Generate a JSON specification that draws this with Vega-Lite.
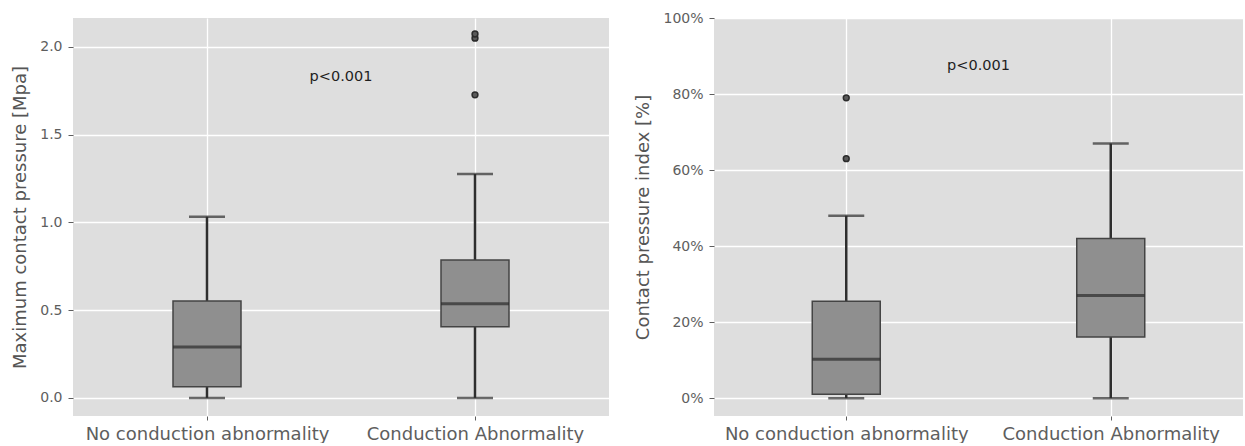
{
  "$schema": "https://vega.github.io/schema/vega-lite/v6.json",
  "padding": {"left": 11, "top": 11, "right": 0, "bottom": 0},
  "spacing": 25,
  "background": "white",
  "config": {
    "font": "DejaVu Sans",
    "view": {"fill": "#dedede", "stroke": null},
    "axis": {
      "domain": false,
      "grid": true,
      "gridColor": "#ffffff",
      "gridWidth": 1.3,
      "tickColor": "#5e5e5e",
      "tickSize": 5,
      "labelColor": "#5e5e5e",
      "labelFont": "DejaVu Sans",
      "titleFont": "DejaVu Sans",
      "titleFontWeight": "normal",
      "titleColor": "#555555",
      "labelLimit": 0
    }
  },
  "datasets": {
    "box_mcp": [
      {"group": "No conduction abnormality", "lower": 0.0, "q1": 0.063, "median": 0.29, "q3": 0.553, "upper": 1.033},
      {"group": "Conduction Abnormality", "lower": 0.0, "q1": 0.405, "median": 0.536, "q3": 0.786, "upper": 1.276}
    ],
    "out_mcp": [
      {"group": "Conduction Abnormality", "value": 1.727},
      {"group": "Conduction Abnormality", "value": 2.05},
      {"group": "Conduction Abnormality", "value": 2.074}
    ],
    "note_mcp": [{"label": "p<0.001", "y": 1.83}],
    "box_cpi": [
      {"group": "No conduction abnormality", "lower": 0.0, "q1": 0.01, "median": 0.102, "q3": 0.255, "upper": 0.48},
      {"group": "Conduction Abnormality", "lower": 0.0, "q1": 0.161, "median": 0.27, "q3": 0.42, "upper": 0.67}
    ],
    "out_cpi": [
      {"group": "No conduction abnormality", "value": 0.79},
      {"group": "No conduction abnormality", "value": 0.63}
    ],
    "note_cpi": [{"label": "p<0.001", "y": 0.874}]
  },
  "hconcat": [
    {
      "width": 536,
      "height": 398,
      "encoding": {
        "x": {
          "field": "group",
          "type": "nominal",
          "scale": {"type": "point", "padding": 0.5, "domain": ["No conduction abnormality", "Conduction Abnormality"]},
          "axis": {"title": null, "labelAngle": 0, "labelFontSize": 18, "labelPadding": 5, "tickSize": 4}
        }
      },
      "layer": [
        {
          "data": {"name": "box_mcp"},
          "mark": {"type": "rule", "color": "#2e2e2e", "strokeWidth": 2.5},
          "encoding": {
            "y": {
              "field": "lower",
              "type": "quantitative",
              "scale": {"domain": [-0.103, 2.165], "nice": false, "zero": false},
              "axis": {
                "title": "Maximum contact pressure [Mpa]",
                "titleFontSize": 18,
                "titlePadding": 10,
                "values": [0, 0.5, 1.0, 1.5, 2.0],
                "format": ".1f",
                "labelFontSize": 14,
                "labelPadding": 6
              }
            },
            "y2": {"field": "upper"}
          }
        },
        {
          "data": {"name": "box_mcp"},
          "mark": {"type": "tick", "color": "#2e2e2e", "size": 36, "thickness": 2.5},
          "encoding": {"y": {"field": "lower", "type": "quantitative"}}
        },
        {
          "data": {"name": "box_mcp"},
          "mark": {"type": "tick", "color": "#2e2e2e", "size": 36, "thickness": 2.5},
          "encoding": {"y": {"field": "upper", "type": "quantitative"}}
        },
        {
          "data": {"name": "box_mcp"},
          "mark": {"type": "bar", "size": 68, "fill": "#8f8f8f", "stroke": "#444444", "strokeWidth": 1.5},
          "encoding": {
            "y": {"field": "q1", "type": "quantitative"},
            "y2": {"field": "q3"}
          }
        },
        {
          "data": {"name": "box_mcp"},
          "mark": {"type": "tick", "color": "#2b2b2b", "size": 68, "thickness": 3},
          "encoding": {"y": {"field": "median", "type": "quantitative"}}
        },
        {
          "data": {"name": "out_mcp"},
          "mark": {"type": "point", "filled": true, "fill": "#5a5a5a", "stroke": "#2b2b2b", "strokeWidth": 1.5, "size": 34, "opacity": 1},
          "encoding": {"y": {"field": "value", "type": "quantitative"}}
        },
        {
          "data": {"name": "note_mcp"},
          "mark": {"type": "text", "fontSize": 14.5, "color": "#1e1e1e", "font": "DejaVu Sans"},
          "encoding": {
            "x": null,
            "y": {"field": "y", "type": "quantitative"},
            "text": {"field": "label"}
          }
        }
      ]
    },
    {
      "width": 529,
      "height": 398,
      "encoding": {
        "x": {
          "field": "group",
          "type": "nominal",
          "scale": {"type": "point", "padding": 0.5, "domain": ["No conduction abnormality", "Conduction Abnormality"]},
          "axis": {"title": null, "labelAngle": 0, "labelFontSize": 18, "labelPadding": 5, "tickSize": 4}
        }
      },
      "layer": [
        {
          "data": {"name": "box_cpi"},
          "mark": {"type": "rule", "color": "#2e2e2e", "strokeWidth": 2.5},
          "encoding": {
            "y": {
              "field": "lower",
              "type": "quantitative",
              "scale": {"domain": [-0.047, 1.0], "nice": false, "zero": false},
              "axis": {
                "title": "Contact pressure index [%]",
                "titleFontSize": 18,
                "titlePadding": 10,
                "values": [0, 0.2, 0.4, 0.6, 0.8, 1.0],
                "format": ".0%",
                "labelFontSize": 14,
                "labelPadding": 6
              }
            },
            "y2": {"field": "upper"}
          }
        },
        {
          "data": {"name": "box_cpi"},
          "mark": {"type": "tick", "color": "#2e2e2e", "size": 36, "thickness": 2.5},
          "encoding": {"y": {"field": "lower", "type": "quantitative"}}
        },
        {
          "data": {"name": "box_cpi"},
          "mark": {"type": "tick", "color": "#2e2e2e", "size": 36, "thickness": 2.5},
          "encoding": {"y": {"field": "upper", "type": "quantitative"}}
        },
        {
          "data": {"name": "box_cpi"},
          "mark": {"type": "bar", "size": 68, "fill": "#8f8f8f", "stroke": "#444444", "strokeWidth": 1.5},
          "encoding": {
            "y": {"field": "q1", "type": "quantitative"},
            "y2": {"field": "q3"}
          }
        },
        {
          "data": {"name": "box_cpi"},
          "mark": {"type": "tick", "color": "#2b2b2b", "size": 68, "thickness": 3},
          "encoding": {"y": {"field": "median", "type": "quantitative"}}
        },
        {
          "data": {"name": "out_cpi"},
          "mark": {"type": "point", "filled": true, "fill": "#5a5a5a", "stroke": "#2b2b2b", "strokeWidth": 1.5, "size": 34, "opacity": 1},
          "encoding": {"y": {"field": "value", "type": "quantitative"}}
        },
        {
          "data": {"name": "note_cpi"},
          "mark": {"type": "text", "fontSize": 14.5, "color": "#1e1e1e", "font": "DejaVu Sans"},
          "encoding": {
            "x": null,
            "y": {"field": "y", "type": "quantitative"},
            "text": {"field": "label"}
          }
        }
      ]
    }
  ]
}
